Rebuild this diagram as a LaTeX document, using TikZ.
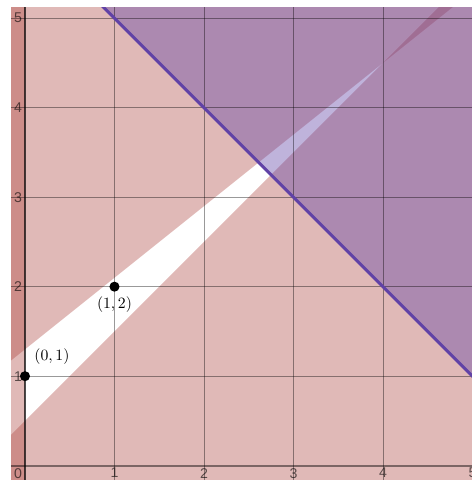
\documentclass[tikz,border=0pt]{standalone}
\usepackage{fontspec}
\setsansfont{Liberation Sans}
\usetikzlibrary{positioning}
\definecolor{dsred}{RGB}{170,62,56}
\definecolor{dspurple}{RGB}{96,66,166}
\tikzset{
  redshade/.style={fill=dsred, fill opacity=0.36},
  purpleshade/.style={fill=dspurple, fill opacity=0.4},
  gridline/.style={black, opacity=0.4, line width=0.6pt},
  xaxisline/.style={black, opacity=0.45, line width=1.3pt},
  yaxisline/.style={black, opacity=0.7, line width=1.3pt},
  boundary/.style={dspurple, line width=1.9pt},
  dotpt/.style={circle, fill=black, inner sep=0pt, minimum size=6.4pt},
  ptlabel/.style={inner sep=0pt, font=\normalsize},
  ticklabel/.style={inner sep=0pt, font=\sffamily\fontsize{9}{10}\selectfont, text=black, text opacity=0.6}
}
\begin{document}
\begin{tikzpicture}[x=2cm, y=2cm]
  \useasboundingbox (-0.279,-0.16) rectangle (4.994,5.203);

  \begin{scope}
    \clip (-0.156,-0.16) rectangle (4.994,5.114);
    % Shaded regions
    \fill[redshade] (-1,-1) rectangle (0,7);
    \fill[redshade] (-1,0.5) -- (6,6.1) -- (6,7) -- (-1,7) -- cycle;
    \fill[redshade] (-1,-0.5) -- (6,6.5) -- (6,-1) -- (-1,-1) -- cycle;
    \fill[purpleshade] (-1,7) -- (7,-1) -- (7,7) -- cycle;

    % Grid
    \foreach \k in {1,...,5} {
      \draw[gridline] (\k,-1) -- (\k,6);
      \draw[gridline] (-1,\k) -- (6,\k);
    }

    % Axes
    \draw[xaxisline] (-1,0) -- (6,0);
    \draw[yaxisline] (0,-1) -- (0,6);

    % Line x+y=6
    \draw[boundary] (-1,7) -- (7,-1);
  \end{scope}

  % Tick labels
  \node[ticklabel, anchor=north] (xt0) at (-0.078,-0.025) {0};
  \foreach \k in {1,...,5} {
    \node[ticklabel, anchor=north] (xt\k) at (\k,-0.025) {\k};
    \node[ticklabel] (yt\k) at (-0.078,\k) {\k};
  }

  % Points
  \node[dotpt] (pA) at (0,1) {};
  \node[dotpt] (pB) at (1,2) {};
  \node[ptlabel, above right=4.7pt and 3.4pt of pA] (labA) {$(0,1)$};
  \node[ptlabel, below=3pt of pB] (labB) {$(1,2)$};
\end{tikzpicture}
\end{document}
